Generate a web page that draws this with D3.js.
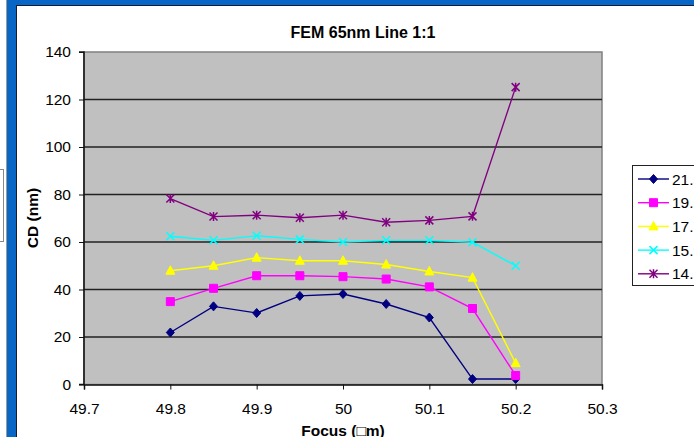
<!DOCTYPE html>
<html>
<head>
<meta charset="utf-8">
<script src="https://cdn.jsdelivr.net/npm/d3@7"></script>
<style>
  body { margin: 0; background: #fff; }
  svg { display: block; font-family: "Liberation Sans", Arial, sans-serif; }
</style>
</head>
<body>
<script>
// Data
const focus = [49.8, 49.85, 49.9, 49.95, 50, 50.05, 50.1, 50.15, 50.2];
const seriesNames = ["21.3", "19.5", "17.7", "15.9", "14.1"];
const cd213 = [21.9, 32.9, 30.1, 37.3, 38.1, 33.9, 28.2, 2.3, 2.3];
const cd195 = [34.9, 40.5, 45.8, 45.8, 45.4, 44.4, 41.1, 32.0, 3.8];
const cd177 = [47.9, 50.0, 53.4, 52.1, 52.1, 50.5, 47.6, 45.0, 9.0];
const cd159 = [62.4, 60.7, 62.6, 61.1, 60.0, 60.7, 60.7, 59.9, 50.0];
const cd141 = [78.3, 70.7, 71.3, 70.2, 71.3, 68.3, 69.1, 70.8, 125.2];
const xTicks = [49.7, 49.8, 49.9, 50, 50.1, 50.2, 50.3];
const xTickLabels = ["49.7", "49.8", "49.9", "50", "50.1", "50.2", "50.3"];
const yTicks = [0, 20, 40, 60, 80, 100, 120, 140];

const series = [
  { name: seriesNames[0], values: cd213, color: "#000080", marker: "diamond" },
  { name: seriesNames[1], values: cd195, color: "#ff00ff", marker: "square" },
  { name: seriesNames[2], values: cd177, color: "#ffff00", marker: "triangle" },
  { name: seriesNames[3], values: cd159, color: "#00ffff", marker: "x" },
  { name: seriesNames[4], values: cd141, color: "#800080", marker: "star" }
];

// Dimensions
const width = 694;
const height = 437;
const plot = { left: 84, right: 602, top: 52, bottom: 384.5 };

const svg = d3.select("body")
  .append("svg")
  .attr("width", width)
  .attr("height", height);

// Outer frame (blue band + white chart area)
svg.append("rect").attr("x", 0).attr("y", 0).attr("width", width).attr("height", height).attr("fill", "#fff");
svg.append("rect").attr("x", 7).attr("y", 0).attr("width", width).attr("height", height).attr("fill", "#0866c6");
svg.append("line").attr("x1", 6.5).attr("x2", 6.5).attr("y1", 0).attr("y2", height).attr("stroke", "#9a9a9a");
svg.append("rect").attr("x", -10).attr("y", 169.5).attr("width", 13.5).attr("height", 72)
  .attr("fill", "#fff").attr("stroke", "#888");
svg.append("rect").attr("x", 16.5).attr("y", 5.5).attr("width", width).attr("height", height)
  .attr("fill", "#fff").attr("stroke", "#1a1a2a");

// Scales
const x = d3.scaleLinear().domain([49.7, 50.3]).range([plot.left, plot.right]);
const y = d3.scaleLinear().domain([0, 140]).range([plot.bottom, plot.top]);

// Plot area
svg.append("rect")
  .attr("x", plot.left).attr("y", plot.top)
  .attr("width", plot.right - plot.left).attr("height", plot.bottom - plot.top)
  .attr("fill", "#c0c0c0").attr("stroke", "#808080").attr("stroke-width", 1.5);

// Gridlines
svg.append("g")
  .selectAll("line")
  .data(yTicks.filter(d => d > 0 && d < 140))
  .join("line")
  .attr("x1", plot.left).attr("x2", plot.right)
  .attr("y1", d => y(d)).attr("y2", d => y(d))
  .attr("stroke", "#222").attr("stroke-width", 1.3);

// Axes
const xAxis = d3.axisBottom(x).tickValues(xTicks).tickSize(5).tickPadding(13)
  .tickFormat((d, i) => xTickLabels[i]);
const yAxis = d3.axisLeft(y).tickValues(yTicks).tickSize(5).tickPadding(8);

const gx = svg.append("g").attr("transform", `translate(0,${plot.bottom})`).call(xAxis);
const gy = svg.append("g").attr("transform", `translate(${plot.left},0)`).call(yAxis);
[gx, gy].forEach(g => {
  g.select(".domain").attr("stroke", "#111").attr("stroke-width", 1.5);
  g.selectAll(".tick line").attr("stroke", "#111");
  g.selectAll(".tick text").attr("fill", "#000").style("font-size", "15.5px")
    .style("font-family", "'Liberation Sans', Arial, sans-serif");
});
gy.select(".domain").attr("d", `M-5,${y(140)}H0V${y(0)}H-5`);

// Markers
function markerPath(type) {
  switch (type) {
    case "diamond": return "M0,-4.5L4,0L0,4.5L-4,0Z";
    case "square": return "M-4,-4H4V4H-4Z";
    case "triangle": return "M0,-5L4.5,3.5H-4.5Z";
    case "x": return "M-4,-4L4,4M-4,4L4,-4";
    case "star": return "M-4,-4L4,4M-4,4L4,-4M0,-4.5V4.5";
  }
}
function drawMarker(g, s) {
  const filled = s.marker !== "x" && s.marker !== "star";
  g.append("path")
    .attr("d", markerPath(s.marker))
    .attr("fill", filled ? s.color : "none")
    .attr("stroke", s.color)
    .attr("stroke-width", filled ? 1 : 1.5);
}

// Lines
const line = d3.line().x((d, i) => x(focus[i])).y(d => y(d));
series.forEach(s => {
  svg.append("path")
    .datum(s.values)
    .attr("d", line)
    .attr("fill", "none")
    .attr("stroke", s.color)
    .attr("stroke-width", 1.4);
  s.values.forEach((v, i) => {
    const g = svg.append("g").attr("transform", `translate(${x(focus[i])},${y(v)})`);
    drawMarker(g, s);
  });
});

// Title
svg.append("text")
  .attr("x", 363).attr("y", 37.5)
  .attr("text-anchor", "middle")
  .style("font-size", "16px").style("font-weight", "bold")
  .text("FEM 65nm Line 1:1");

// Axis labels
svg.append("text")
  .attr("x", 343).attr("y", 435.5)
  .attr("text-anchor", "middle")
  .style("font-size", "15.5px").style("font-weight", "bold")
  .text("Focus (\u25A1m)");

svg.append("text")
  .attr("transform", "rotate(-90)")
  .attr("x", -218).attr("y", 38)
  .attr("text-anchor", "middle")
  .style("font-size", "15.5px").style("font-weight", "bold")
  .text("CD (nm)");

// Legend
const legend = svg.append("g");
legend.append("rect")
  .attr("x", 632.5).attr("y", 165.5).attr("width", 100).attr("height", 120)
  .attr("fill", "#fff").attr("stroke", "#222");
series.forEach((s, i) => {
  const ly = 179 + i * 23.7;
  legend.append("line")
    .attr("x1", 638).attr("x2", 669).attr("y1", ly).attr("y2", ly)
    .attr("stroke", s.color).attr("stroke-width", 1.4);
  drawMarker(legend.append("g").attr("transform", `translate(653.5,${ly})`), s);
  legend.append("text")
    .attr("x", 672).attr("y", ly + 5.5)
    .style("font-size", "15.5px")
    .text(s.name);
});
</script>
</body>
</html>
